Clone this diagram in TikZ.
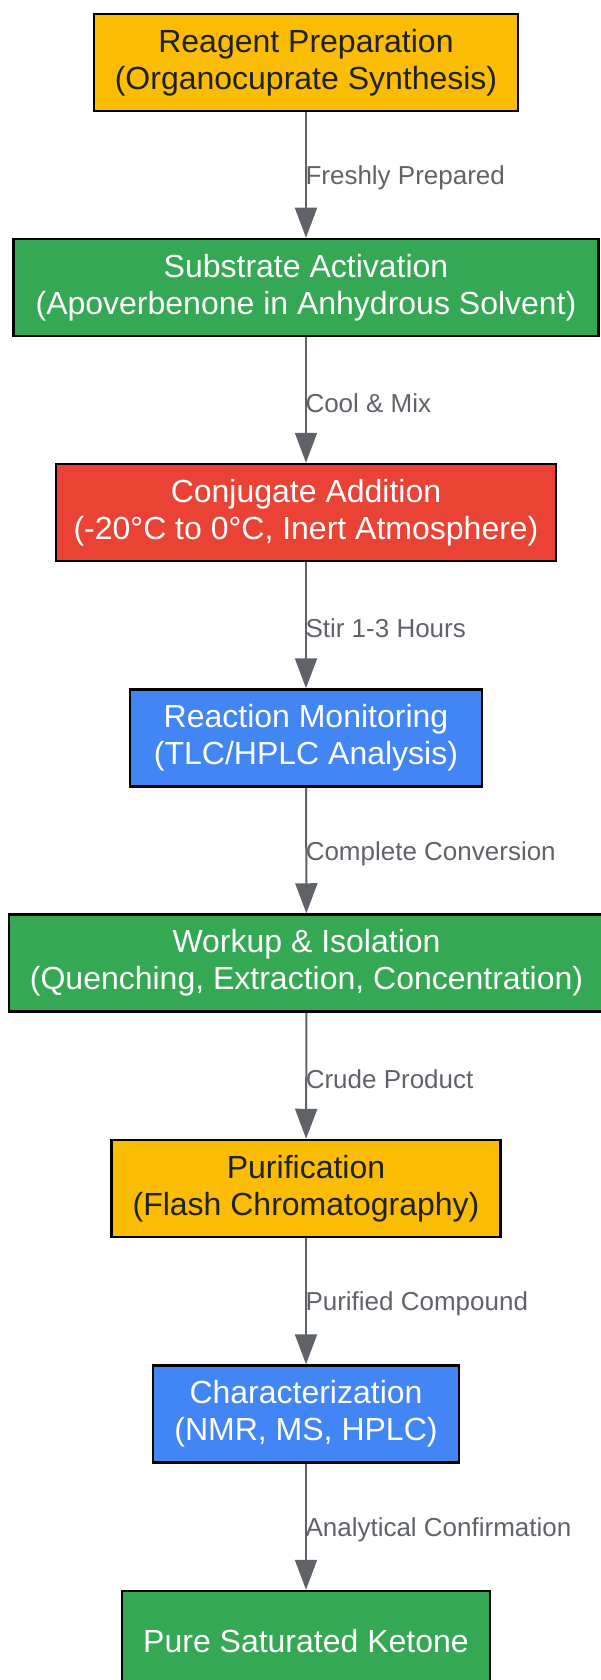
\documentclass[tikz,border=0pt]{standalone}
\usepackage{fontspec}
\setmainfont{Liberation Sans}
\usepackage{xcolor}
\usetikzlibrary{arrows.meta}

\definecolor{gyellow}{HTML}{FBBC04}
\definecolor{ggreen}{HTML}{34A853}
\definecolor{gred}{HTML}{EA4335}
\definecolor{gblue}{HTML}{4285F4}
\definecolor{edgegrey}{HTML}{5F6368}
\definecolor{darktext}{HTML}{202124}

\tikzset{
    stepbox/.style={draw=black, line width=2.5pt, minimum height=97pt, inner sep=0pt,
        align=center, font=\fontsize{32}{37}\selectfont,
        execute at begin node={\rule{0pt}{27pt}}},
    yellowbox/.style={stepbox, fill=gyellow, text=darktext},
    greenbox/.style={stepbox, fill=ggreen, text=white},
    redbox/.style={stepbox, fill=gred, text=white},
    bluebox/.style={stepbox, fill=gblue, text=white},
    flow/.style={draw=edgegrey, line width=2pt, -{Triangle[length=30pt, width=22pt]}},
    lbl/.style={anchor=west, inner sep=0pt, xshift=-1.5pt, yshift=-3pt, text=edgegrey,
        font=\fontsize{26}{30}\selectfont}
}

\begin{document}
\begin{tikzpicture}[x=1pt, y=1pt]
            \useasboundingbox (0,0) rectangle (601,-1680);
            \clip (0,0) rectangle (601,-1680);
            \node [yellowbox, minimum width=424pt] (prep) at (306,-62.5) {Reagent Preparation\\(Organocuprate Synthesis)};
            \node [greenbox, minimum width=585pt] (activ) at (306,-287.5) {Substrate Activation\\(Apoverbenone in Anhydrous Solvent)};
            \node [redbox, minimum width=500pt] (addit) at (306,-512.5) {Conjugate Addition\\(-20°C to 0°C, Inert Atmosphere)};
            \node [bluebox, minimum width=352pt] (monit) at (306,-738) {Reaction Monitoring\\(TLC/HPLC Analysis)};
            \node [greenbox, minimum width=595pt] (workup) at (306.5,-963) {Workup \& Isolation\\(Quenching, Extraction, Concentration)};
            \node [yellowbox, minimum width=389pt] (purif) at (306,-1188.5) {Purification\\(Flash Chromatography)};
            \node [bluebox, minimum width=306pt] (charac) at (306,-1414) {Characterization\\(NMR, MS, HPLC)};
            \node [greenbox, minimum width=368pt] (ketone) at (306,-1639.5) {Pure Saturated Ketone};
            \draw [flow] (prep) -- node [lbl, pos=0.5]{Freshly Prepared} (activ);
            \draw [flow] (activ) -- node [lbl, pos=0.5]{Cool \& Mix} (addit);
            \draw [flow] (addit) -- node [lbl, pos=0.5]{Stir 1-3 Hours} (monit);
            \draw [flow] (monit) -- node [lbl, pos=0.5]{Complete Conversion} (workup);
            \draw [flow] (workup) -- node [lbl, pos=0.5]{Crude Product} (purif);
            \draw [flow] (purif) -- node [lbl, pos=0.5]{Purified Compound} (charac);
            \draw [flow] (charac) -- node [lbl, pos=0.5]{Analytical Confirmation} (ketone);
        \end{tikzpicture}
\end{document}
